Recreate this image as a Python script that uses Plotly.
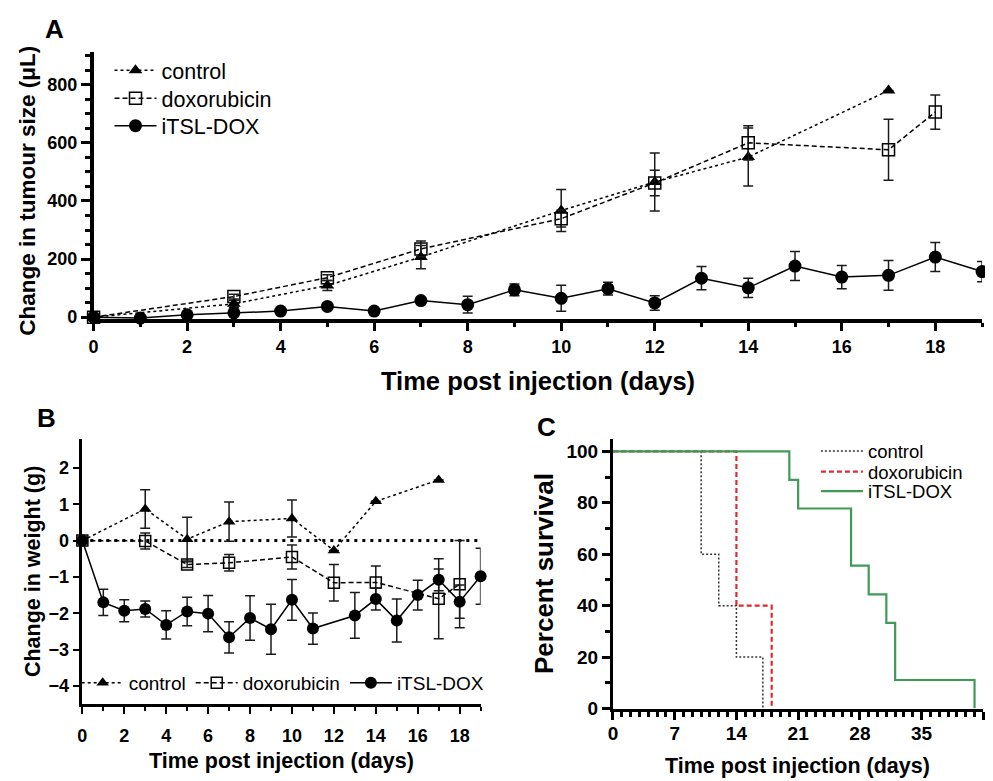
import plotly.graph_objects as go

# Page geometry: the body has an 8px default margin and the photographed
# picture is vertically ~0.985 of the page, so positions (given in picture
# pixels) are converted to paper fractions below.
OFF = 8
KY = 0.985
W = 993 - OFF
H = 785
FONT = "Arial, Liberation Sans, sans-serif"

# ---------------- Panel A: change in tumour size (uL) ----------------
days_ctrl_A = [0, 3, 5, 7, 10, 12, 14, 17]
ctrl_A = [0, 46, 109, 207, 367, 465, 551, 780]
ctrl_A_err = [None, 12, 17, 40, 72, 100, 100, None]

days_dox_A = [0, 3, 5, 7, 10, 12, 14, 17, 18]
dox_A = [0, 71, 136, 235, 339, 462, 600, 576, 706]
dox_A_err = [None, 8, 10, 27, 29, 44, 59, 105, 59]

days_itsl_A = list(range(0, 20))
itsl_A = [0, -3, 8, 15, 21, 37, 21, 57, 43, 94, 65, 98, 49, 134, 101, 176, 138, 144, 207, 157]
itsl_A_err = [None, 3, 5, 6, 6, 7, 6, 8, 29, 20, 45, 22, 25, 40, 33, 50, 40, 51, 50, 35]

# ---------------- Panel B: change in weight (g) ----------------
days_ctrl_B = [0, 3, 5, 7, 10, 12, 14, 17]
ctrl_B = [0, 0.87, 0.04, 0.52, 0.61, -0.27, 1.08, 1.67]
ctrl_B_err = [None, 0.53, 0.6, 0.54, 0.51, None, None, None]

days_dox_B = [0, 3, 5, 7, 10, 12, 14, 17, 18]
dox_B = [0, -0.01, -0.66, -0.61, -0.45, -1.16, -1.15, -1.6, -1.2]
dox_B_err = [None, 0.22, 0.08, 0.23, 0.33, 0.5, 0.45, 1.1, 1.2]

days_itsl_B = [0, 1, 2, 3, 4, 5, 6, 7, 8, 9, 10, 11, 13, 14, 15, 16, 17, 18, 19]
itsl_B = [0, -1.70, -1.93, -1.88, -2.32, -1.95, -2.01, -2.66, -2.13, -2.44, -1.63, -2.42,
          -2.06, -1.61, -2.20, -1.50, -1.08, -1.68, -0.98]
itsl_B_err = [None, 0.36, 0.30, 0.22, 0.39, 0.39, 0.50, 0.43, 0.61, 0.69, 0.56, 0.43,
              0.63, 0.30, 0.59, 0.41, 0.30, 0.46, 0.77]

baseline_days_B = [0, 19]
baseline_B = [0, 0]

# ---------------- Panel C: survival ----------------
surv_ctrl_days = [0, 10, 12, 14, 17]
surv_ctrl = [100, 60, 40, 20, 0]
surv_dox_days = [0, 14, 18]
surv_dox = [100, 40, 0]
surv_itsl_days = [0, 20, 21, 27, 29, 31, 32, 41]
surv_itsl = [100, 88.9, 77.8, 55.6, 44.4, 33.3, 11.1, 0]

series_names = ["control", "doxorubicin", "iTSL-DOX"]

GREEN = "#3f9a57"
RED = "#de2a2a"


def px_x(p):
    return (p - OFF) / W


def px_y(p):
    return 1 - (p / KY - OFF) / H


def err(vals):
    return dict(type="data", array=vals, visible=True, color="#1a1a1a", thickness=1.5, width=5)


fig = go.Figure()

# ---- Panel A traces (one legend per entry so rows sit exactly)
fig.add_trace(go.Scatter(
    x=days_ctrl_A, y=ctrl_A, name=series_names[0], mode="lines+markers",
    line=dict(color="black", width=1.5, dash="dot"),
    marker=dict(symbol="triangle-up", size=12, color="black"),
    error_y=err(ctrl_A_err), cliponaxis=False, xaxis="x", yaxis="y", legend="legend"))
fig.add_trace(go.Scatter(
    x=days_dox_A, y=dox_A, name=series_names[1], mode="lines+markers",
    line=dict(color="black", width=1.5, dash="5px,3px"),
    marker=dict(symbol="square-open", size=12, color="black", line=dict(width=1.5, color="black")),
    error_y=err(dox_A_err), cliponaxis=False, xaxis="x", yaxis="y", legend="legend4"))
fig.add_trace(go.Scatter(
    x=days_itsl_A, y=itsl_A, name=series_names[2], mode="lines+markers",
    line=dict(color="black", width=1.5),
    marker=dict(symbol="circle", size=13, color="black"),
    error_y=err(itsl_A_err), cliponaxis=False, xaxis="x", yaxis="y", legend="legend5"))

# ---- Panel B traces
fig.add_trace(go.Scatter(
    x=baseline_days_B, y=baseline_B, mode="lines", showlegend=False, hoverinfo="skip",
    line=dict(color="black", width=3, dash="3px,5px"), xaxis="x2", yaxis="y2"))
fig.add_trace(go.Scatter(
    x=days_ctrl_B, y=ctrl_B, name=series_names[0], mode="lines+markers",
    line=dict(color="black", width=1.5, dash="dot"),
    marker=dict(symbol="triangle-up", size=11, color="black"),
    error_y=err(ctrl_B_err), cliponaxis=False, xaxis="x2", yaxis="y2", legend="legend2"))
fig.add_trace(go.Scatter(
    x=days_dox_B, y=dox_B, name=series_names[1], mode="lines+markers",
    line=dict(color="black", width=1.5, dash="5px,3px"),
    marker=dict(symbol="square-open", size=11, color="black", line=dict(width=1.5, color="black")),
    error_y=err(dox_B_err), cliponaxis=False, xaxis="x2", yaxis="y2", legend="legend2"))
fig.add_trace(go.Scatter(
    x=days_itsl_B, y=itsl_B, name=series_names[2], mode="lines+markers",
    line=dict(color="black", width=1.5),
    marker=dict(symbol="circle", size=12, color="black"),
    error_y=err(itsl_B_err), cliponaxis=False, xaxis="x2", yaxis="y2", legend="legend2"))

# ---- Panel C traces
fig.add_trace(go.Scatter(
    x=surv_ctrl_days, y=surv_ctrl, name=series_names[0], mode="lines", line_shape="hv",
    line=dict(color="#333333", width=1.5, dash="2px,2px"), cliponaxis=False,
    xaxis="x3", yaxis="y3", legend="legend3"))
fig.add_trace(go.Scatter(
    x=surv_dox_days, y=surv_dox, name=series_names[1], mode="lines", line_shape="hv",
    line=dict(color=RED, width=2.2, dash="5px,3px"), cliponaxis=False,
    xaxis="x3", yaxis="y3", legend="legend6"))
fig.add_trace(go.Scatter(
    x=surv_itsl_days, y=surv_itsl, name=series_names[2], mode="lines", line_shape="hv",
    line=dict(color=GREEN, width=2.2), cliponaxis=False,
    xaxis="x3", yaxis="y3", legend="legend7"))


def axis(domain, rng, anchor, lw, dtick, tsize, ticklen, minor_dtick=None, minor_len=4,
         standoff=0):
    d = dict(domain=domain, range=rng, anchor=anchor, showline=True, linecolor="black",
             linewidth=lw, ticks="outside", ticklen=ticklen, tickwidth=lw * 0.85,
             tickcolor="black", tick0=0, dtick=dtick, showgrid=False, zeroline=False,
             tickfont=dict(family=FONT, size=tsize, color="black", weight="bold"),
             ticklabelstandoff=standoff, layer="above traces", fixedrange=True)
    if minor_dtick is not None:
        d["minor"] = dict(dtick=minor_dtick, tick0=0, ticks="outside", ticklen=minor_len,
                          tickwidth=lw * 0.85, tickcolor="black", showgrid=False)
    return d


def leg(x, y, size, itemwidth=42, orientation="v"):
    return dict(x=px_x(x), y=px_y(y), xanchor="left", yanchor="middle", orientation=orientation,
                font=dict(family=FONT, size=size, color="black"), itemwidth=itemwidth,
                bgcolor="rgba(0,0,0,0)", borderwidth=0)


layout = dict(
    width=W, height=H, autosize=False,
    margin=dict(l=0, r=0, t=0, b=0),
    paper_bgcolor="white", plot_bgcolor="white",
    font=dict(family=FONT, color="black"),
    xaxis=axis([px_x(89), px_x(982)], [0, 19], "y", 3.5, 2, 18, 8, 1, 4, standoff=1),
    yaxis=axis([px_y(318.5), px_y(52)], [-6, 912], "x", 3.5, 200, 18, 9, 50, 5),
    xaxis2=axis([px_x(77.7), px_x(478)], [0, 19], "y2", 2.5, 2, 18, 7, 1, 4, standoff=7),
    yaxis2=axis([px_y(703.3), px_y(438.3)], [-4.5, 2.8], "x2", 2.5, 1, 18, 7),
    xaxis3=axis([px_x(611), px_x(983.3)], [0, 42], "y3", 3, 7, 19, 8, 1, 5, standoff=-2),
    yaxis3=axis([px_y(707.7), px_y(438)], [0, 105], "x3", 3, 20, 19, 8, 10, 5),
    # panel A legend rows
    legend=leg(105, 70, 21.5),
    legend4=leg(105, 98, 21.5),
    legend5=leg(105, 125.5, 21.5),
    # panel B legend (one row)
    legend2=leg(72, 682, 19, itemwidth=42, orientation="h"),
    # panel C legend rows
    legend3=leg(815, 451, 18.5),
    legend6=leg(815, 471.5, 18.5),
    legend7=leg(815, 491, 18.5),
    showlegend=True,
)

bold = dict(family=FONT, color="black", weight="bold")
annotations = [
    dict(text="A", x=px_x(50), y=px_y(29), font=dict(size=26, **bold)),
    dict(text="B", x=px_x(42), y=px_y(417), font=dict(size=26, **bold)),
    dict(text="C", x=px_x(544), y=px_y(426), font=dict(size=26, **bold)),
    dict(text="Time post injection (days)", x=px_x(535.5), y=px_y(381), font=dict(size=25.5, **bold)),
    dict(text="Change in tumour size (μL)", x=px_x(23), y=px_y(190.5), textangle=-90,
         font=dict(size=22.5, **bold)),
    dict(text="Time post injection (days)", x=px_x(277.8), y=px_y(760), font=dict(size=21.5, **bold)),
    dict(text="Change in weight (g)", x=px_x(28), y=px_y(570.5), textangle=-90,
         font=dict(size=21.5, **bold)),
    dict(text="Time post injection (days)", x=px_x(797), y=px_y(765), font=dict(size=21.5, **bold)),
    dict(text="Percent survival", x=px_x(541.5), y=px_y(572.5), textangle=-90,
         font=dict(size=26, **bold)),
]
for a in annotations:
    a.update(xref="paper", yref="paper", xanchor="center", yanchor="middle", showarrow=False)
layout["annotations"] = annotations

fig.update_layout(**layout)
fig.write_html("out.html")
